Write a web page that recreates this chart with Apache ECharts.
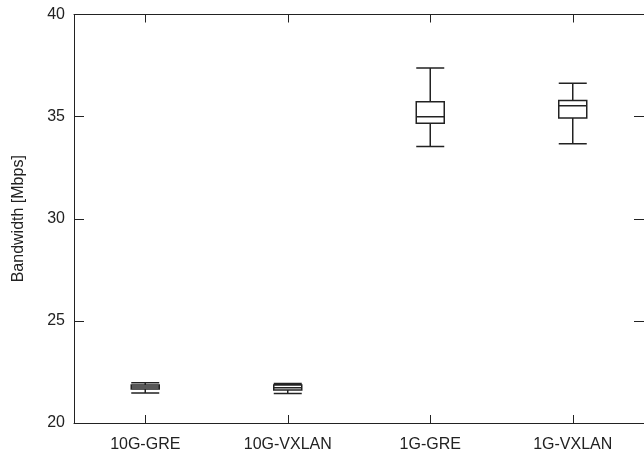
<!DOCTYPE html>
<html><head><meta charset="utf-8">
<script src="https://cdn.jsdelivr.net/npm/echarts@6/dist/echarts.min.js"></script>
<style>html,body{margin:0;padding:0;background:#fff}#c{width:644px;height:457px}</style>
</head><body><div id="c"></div>
<script>
const categories = ['10G-GRE', '10G-VXLAN', '1G-GRE', '1G-VXLAN'];
// [lower whisker, Q1, median, Q3, upper whisker]
const box10gGre   = [21.47, 21.66, 21.76, 21.86, 21.97];
const box10gVxlan = [21.45, 21.62, 21.73, 21.86, 21.94];
const box1gGre    = [33.54, 34.68, 34.99, 35.73, 37.38];
const box1gVxlan  = [33.67, 34.93, 35.53, 35.79, 36.64];
const yTicks = [20, 25, 30, 35, 40];

const chart = echarts.init(document.getElementById('c'));
const font = 'Liberation Sans, Arial, sans-serif';
const lineC = '#222';
const tick = { show: true, inside: true, length: 8, alignWithLabel: true, interval: 0, lineStyle: { color: lineC, width: 1 } };
chart.setOption({
  animation: false,
  grid: { left: 74, top: 14.5, right: -3, bottom: 34 },
  xAxis: [{
    type: 'category', data: categories, boundaryGap: true,
    axisLine: { show: true, lineStyle: { color: lineC, width: 1 } },
    axisTick: tick,
    axisLabel: { color: '#222', fontSize: 16, fontFamily: font, margin: 14, interval: 0 },
    splitLine: { show: false }
  }, {
    type: 'category', data: categories, position: 'top', boundaryGap: true,
    axisLine: { show: true, lineStyle: { color: lineC, width: 1 } },
    axisTick: tick,
    axisLabel: { show: false }, splitLine: { show: false }
  }],
  yAxis: [{
    type: 'value', min: yTicks[0], max: yTicks[yTicks.length - 1], interval: 5,
    name: 'Bandwidth [Mbps]', nameLocation: 'middle', nameGap: 47,
    nameTextStyle: { color: '#222', fontSize: 16, fontFamily: font },
    axisLine: { show: true, lineStyle: { color: lineC, width: 1 } },
    axisTick: { show: true, inside: true, length: 10, lineStyle: { color: lineC } },
    axisLabel: { color: '#222', fontSize: 16, fontFamily: font, margin: 9 },
    splitLine: { show: false }
  }, {
    type: 'value', min: yTicks[0], max: yTicks[yTicks.length - 1], interval: 5, position: 'right',
    axisLine: { show: true, lineStyle: { color: lineC, width: 1 } },
    axisTick: { show: true, inside: true, length: 10, lineStyle: { color: lineC } },
    axisLabel: { show: false }, splitLine: { show: false }
  }],
  series: [{
    type: 'boxplot',
    data: [box10gGre, box10gVxlan, box1gGre, box1gVxlan],
    boxWidth: [28, 28],
    itemStyle: { color: '#fff', borderColor: lineC, borderWidth: 1.5 }
  }]
});
</script></body></html>
